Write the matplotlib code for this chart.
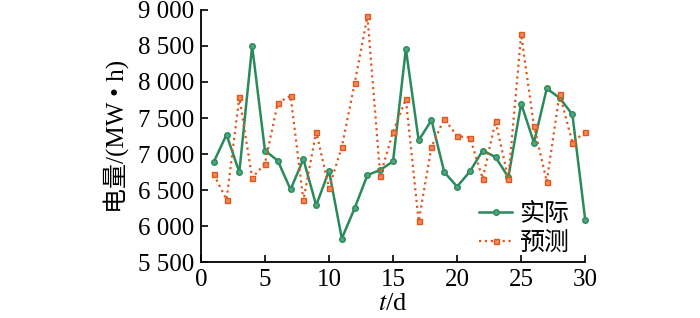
import matplotlib
matplotlib.use("Agg")
import matplotlib.pyplot as plt
from matplotlib.ticker import FuncFormatter, MultipleLocator

plt.rcParams['font.family'] = ['Liberation Serif', 'Noto Sans CJK SC']
plt.rcParams['mathtext.fontset'] = 'stix'

# ---- dados ----
days = list(range(1, 31))
actual = [6890, 7270, 6750, 8500, 7050, 6910, 6510, 6930, 6290, 6770,
          5830, 6250, 6710, 6780, 6900, 8460, 7190, 7470, 6750, 6550,
          6760, 7050, 6960, 6680, 7700, 7160, 7910, 7780, 7550, 6090]
predicted = [6720, 6370, 7790, 6670, 6870, 7710, 7810, 6360, 7310, 6530,
             7100, 7980, 8910, 6700, 7310, 7760, 6070, 7100, 7490, 7250,
             7230, 6660, 7460, 6660, 8660, 7390, 6620, 7840, 7160, 7310]

GREEN = "#2b8a5c"
ORANGE = "#e2571e"

fig = plt.figure(figsize=(7, 3.18), dpi=100)
ax = fig.add_axes([0.287, 0.175, 0.549, 0.794])

ax.plot(days, actual, color=GREEN, lw=1.8, marker='o', ms=4,
        mfc="#4fa47a", mec=GREEN, mew=1.0, label="实际", clip_on=False)
ax.plot(days, predicted, color=ORANGE, lw=1.6, ls=':', marker='s', ms=3.6,
        mfc="#ee8a5a", mec=ORANGE, mew=1.0, label="预测", clip_on=False)

ax.set_xlim(0, 30)
ax.set_ylim(5500, 9000)
ax.xaxis.set_major_locator(MultipleLocator(5))
ax.yaxis.set_major_locator(MultipleLocator(500))
ax.yaxis.set_major_formatter(FuncFormatter(
    lambda v, p: f"{int(v):,}".replace(",", " ")))

for s in ("top", "right"):
    ax.spines[s].set_visible(False)
ax.tick_params(direction='in', labelsize=18, length=5, width=1.2, pad=5)
ax.spines['left'].set_linewidth(1.3)
ax.spines['bottom'].set_linewidth(1.3)

ax.set_ylabel("电量/(MW • h)", fontsize=18, labelpad=6)
ax.set_xlabel("$t$/d", fontsize=19, labelpad=1)

ax.legend(loc='lower right', frameon=False, fontsize=18,
          handlelength=1.3, handletextpad=0.3, labelspacing=0.25,
          borderaxespad=0.0, bbox_to_anchor=(0.985, -0.01))

fig.savefig("out.png", dpi=100)
